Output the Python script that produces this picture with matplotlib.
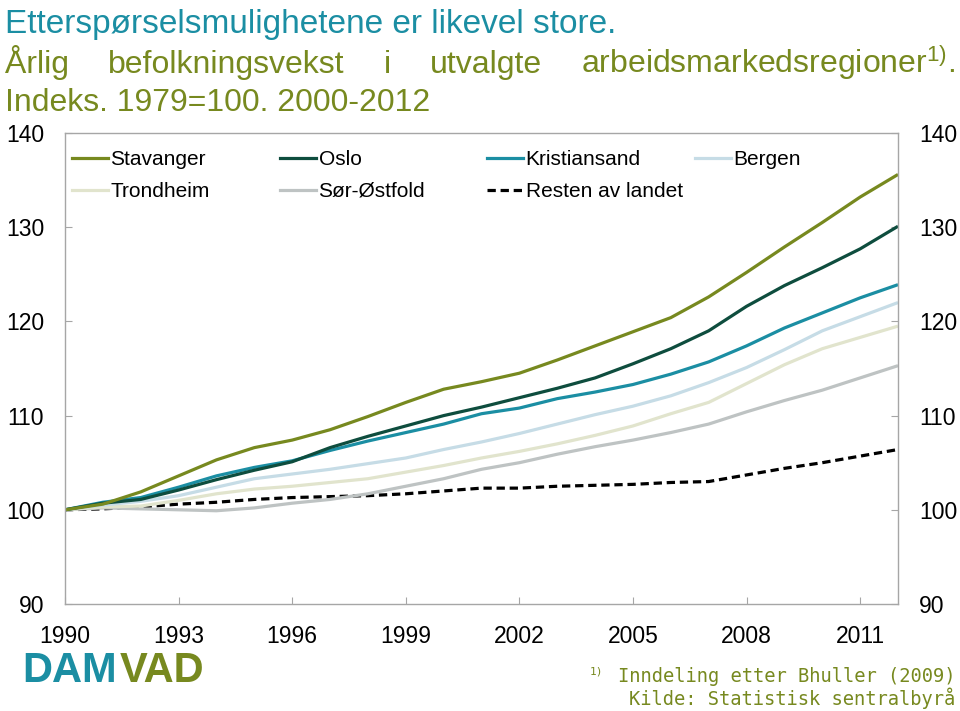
import matplotlib
matplotlib.use("Agg")
import matplotlib.pyplot as plt
from matplotlib.lines import Line2D

plt.rcParams['font.family'] = ['Liberation Sans', 'DejaVu Sans']
plt.rcParams['mathtext.fontset'] = 'custom'
plt.rcParams['mathtext.rm'] = 'Liberation Sans'
plt.rcParams['mathtext.it'] = 'Liberation Sans'

years = list(range(1990, 2013))

stavanger = [100.0, 100.6, 101.9, 103.6, 105.3, 106.6, 107.4, 108.5, 109.9, 111.4, 112.8, 113.6,
             114.5, 115.9, 117.4, 118.9, 120.4, 122.6, 125.2, 127.9, 130.5, 133.2, 135.6]
oslo = [100.0, 100.7, 101.1, 102.1, 103.2, 104.2, 105.1, 106.6, 107.8, 108.9, 110.0, 110.9,
        111.9, 112.9, 114.0, 115.5, 117.1, 119.0, 121.6, 123.8, 125.7, 127.7, 130.1]
kristiansand = [100.0, 100.8, 101.3, 102.4, 103.6, 104.5, 105.2, 106.3, 107.3, 108.2, 109.1, 110.2,
                110.8, 111.8, 112.5, 113.3, 114.4, 115.7, 117.4, 119.3, 120.9, 122.5, 123.9]
bergen = [100.0, 100.5, 100.9, 101.5, 102.4, 103.3, 103.8, 104.3, 104.9, 105.5, 106.4, 107.2,
          108.1, 109.1, 110.1, 111.0, 112.1, 113.5, 115.1, 117.0, 119.0, 120.5, 122.0]
trondheim = [100.0, 100.3, 100.4, 101.0, 101.7, 102.2, 102.5, 102.9, 103.3, 104.0, 104.7, 105.5,
             106.2, 107.0, 107.9, 108.9, 110.2, 111.4, 113.4, 115.4, 117.1, 118.3, 119.5]
sor_ostfold = [100.0, 100.2, 100.1, 100.0, 99.9, 100.2, 100.7, 101.1, 101.7, 102.5, 103.3, 104.3,
               105.0, 105.9, 106.7, 107.4, 108.2, 109.1, 110.4, 111.6, 112.7, 114.0, 115.3]
resten = [100.0, 100.1, 100.3, 100.6, 100.8, 101.1, 101.3, 101.4, 101.5, 101.7, 102.0, 102.3,
          102.3, 102.5, 102.6, 102.7, 102.9, 103.0, 103.7, 104.4, 105.0, 105.7, 106.4]

xticks = [1990, 1993, 1996, 1999, 2002, 2005, 2008, 2011]
yticks = [90, 100, 110, 120, 130, 140]

TEAL = '#1b8ea3'
OLIVE = '#77891f'
DASH = (2.6, 1.5)

W, H = 960, 711
fig = plt.figure(figsize=(W / 100, H / 100), dpi=100)
ax = fig.add_axes([65 / W, 1 - 604 / H, (898 - 65) / W, (604 - 133) / H])

series = [
    ("Stavanger", stavanger, OLIVE, '-'),
    ("Oslo", oslo, '#0e4d3e', '-'),
    ("Kristiansand", kristiansand, TEAL, '-'),
    ("Bergen", bergen, '#c6dce6', '-'),
    ("Trondheim", trondheim, '#e1e4cd', '-'),
    ("Sør-Østfold", sor_ostfold, '#bec3c3', '-'),
    ("Resten av landet", resten, 'black', '--'),
]

colors = {}
# draw back to front so that Stavanger ends up on top
for name, vals, col, ls in reversed(series):
    line, = ax.plot(years, vals, color=col, lw=2.3, ls=ls, solid_capstyle='butt')
    if ls == '--':
        line.set_dashes(DASH)
    colors[name] = col

ax.set_xlim(1990, 2012)
ax.set_ylim(90, 140)
ax.set_xticks(xticks)
ax.set_xticklabels([str(y) for y in xticks])
ax.set_yticks(yticks)
ax.tick_params(axis='x', direction='in', length=5, color='#a6a6a6', labelsize=16.5, pad=15)
ax.tick_params(axis='y', direction='in', length=5, color='#a6a6a6', labelsize=16.5, pad=15,
               left=True, right=True, labelleft=True, labelright=True)
for s in ax.spines.values():
    s.set_color('#a6a6a6')
    s.set_linewidth(1.0)

# legend: four columns, placed one by one so the columns are evenly spaced
cols = [["Stavanger", "Trondheim"], ["Oslo", "Sør-Østfold"],
        ["Kristiansand", "Resten av landet"], ["Bergen"]]
col_x = [72, 280, 487, 695]
for names, x in zip(cols, col_x):
    hs = []
    for n in names:
        if n == "Resten av landet":
            hs.append(Line2D([], [], color=colors[n], lw=2.3, ls='--', dashes=DASH))
        else:
            hs.append(Line2D([], [], color=colors[n], lw=2.3))
    fig.legend(hs, names, loc='upper left', bbox_to_anchor=(x / W, 1 - 150 / H),
               bbox_transform=fig.transFigure, frameon=False, fontsize=15,
               handlelength=1.75, handletextpad=0.1, labelspacing=0.62,
               borderpad=0, borderaxespad=0)

# title and subtitle
fig.text(5 / W, 1 - 33 / H, "Etterspørselsmulighetene er likevel store.", color=TEAL,
         fontsize=24, va='baseline', ha='left')

words = ["Årlig", "befolkningsvekst", "i", "utvalgte", r"arbeidsmarkedsregioner$^{1)}$."]
renderer = fig.canvas.get_renderer()
texts = [fig.text(0, 1 - 73 / H, w, color=OLIVE, fontsize=23, va='baseline', ha='left')
         for w in words]
widths = [t.get_window_extent(renderer).width for t in texts]
gap = (955 - 5 - sum(widths)) / (len(words) - 1)
xpos = 5
for t, w in zip(texts, widths):
    t.set_x(xpos / W)
    xpos += w + gap
fig.text(5 / W, 1 - 111 / H, "Indeks. 1979=100. 2000-2012", color=OLIVE, fontsize=23,
         va='baseline', ha='left')

# logo
fig.text(22 / W, 1 - 671 / H, "DAM", color=TEAL, fontsize=30, fontweight='bold',
         va='center', ha='left')
fig.text(120 / W, 1 - 671 / H, "VAD", color=OLIVE, fontsize=30, fontweight='bold',
         va='center', ha='left')

# footnotes
fig.text(955 / W, 1 - 676 / H, "Inndeling etter Bhuller (2009)", color=OLIVE,
         fontsize=13.5, family='DejaVu Sans Mono', va='center', ha='right')
fig.text(590 / W, 1 - 672 / H, "1)", color=OLIVE, fontsize=8, family='DejaVu Sans Mono',
         va='center', ha='left')
fig.text(955 / W, 1 - 698 / H, "Kilde: Statistisk sentralbyrå", color=OLIVE,
         fontsize=13.5, family='DejaVu Sans Mono', va='center', ha='right')

fig.savefig("out.png", dpi=100)
